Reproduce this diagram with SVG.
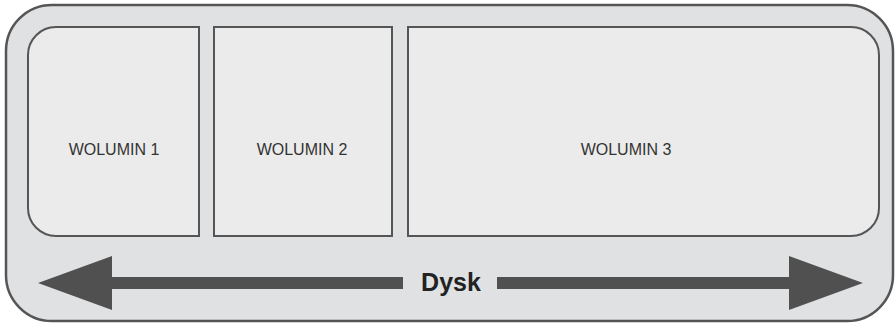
<svg xmlns="http://www.w3.org/2000/svg" width="895" height="324" viewBox="0 0 895 324">
<style>
.vol{fill:#ebebeb;stroke:#555;stroke-width:2}
.lbl{font-family:"Liberation Sans",Arial,sans-serif;font-size:16px;fill:#333;text-anchor:middle}
.arr{fill:#505050}
</style>
<rect width="895" height="324" fill="#ffffff"/>
<g id="disk">
<rect x="6" y="5" width="887" height="316" rx="46" ry="46" fill="#e0e1e3" stroke="#555" stroke-width="2.5"/>
</g>
<g id="vol1">
<path class="vol" d="M199,27 V236 H56 A28,28 0 0 1 28,208 V55 A28,28 0 0 1 56,27 Z"/>
<text class="lbl" x="114" y="155">WOLUMIN 1</text>
</g>
<g id="vol2">
<rect class="vol" x="214" y="27" width="178" height="209"/>
<text class="lbl" x="302" y="155">WOLUMIN 2</text>
</g>
<g id="vol3">
<path class="vol" d="M408,27 H851 A28,28 0 0 1 879,55 V208 A28,28 0 0 1 851,236 H408 Z"/>
<text class="lbl" x="626" y="155">WOLUMIN 3</text>
</g>
<g id="connectors">
<polygon class="arr" points="38,283 112,256 112,277 403,277 403,289 112,289 112,310"/>
<polygon class="arr" points="863,283 789,256 789,277 497,277 497,289 789,289 789,310"/>
</g>
<g id="label-dysk">
<text x="451" y="291" font-family="'Liberation Sans',Arial,sans-serif" font-size="25" font-weight="bold" fill="#222" text-anchor="middle">Dysk</text>
</g>
</svg>
